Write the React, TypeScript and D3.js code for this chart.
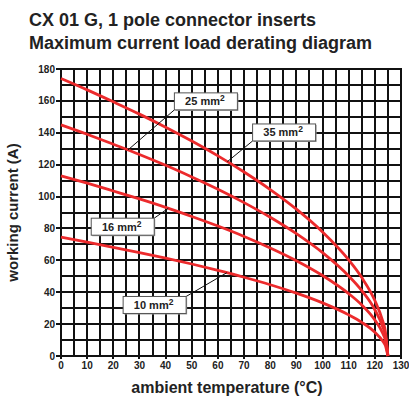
import * as d3 from 'd3';

const temps = [0, 10, 20, 30, 40, 50, 60, 70, 80, 90, 100, 110, 115, 120, 123, 124, 125];
const current10 = [74.5, 71.4, 68.2, 64.9, 61.4, 57.7, 53.7, 49.4, 44.7, 39.4, 33.3, 25.8, 21.1, 14.9, 9.4, 6.7, 0];
const current16 = [113, 108.4, 103.5, 98.5, 93.2, 87.5, 81.5, 75.0, 67.8, 59.8, 50.5, 39.1, 32.0, 22.6, 14.3, 10.1, 0];
const current25 = [145, 139.1, 132.8, 126.4, 119.6, 112.3, 104.6, 96.2, 87.0, 76.7, 64.8, 50.2, 41.0, 29.0, 18.3, 13.0, 0];
const current35 = [174, 166.9, 159.4, 151.7, 143.5, 134.8, 125.5, 115.4, 104.4, 92.1, 77.8, 60.3, 49.2, 34.8, 22.0, 15.6, 0];

const seriesNames = ['10', '16', '25', '35'];
// where the leader line touches the curve (°C)
const anchorTemps = [63.4, 41, 25.6, 63.6];
// label box centres in chart units (°C, A)
const boxTemps = [35.8, 23.6, 55.4, 85.3];
const boxCurrents = [32, 81.1, 159.7, 140.2];

const xTicks = d3.range(0, 131, 10);
const yTicks = d3.range(0, 181, 20);

const W = 409;
const H = 397;
const margin = { top: 69, right: 8, bottom: 41, left: 61 };
const FONT = '"Liberation Sans", Arial, Helvetica, sans-serif';
const RED = '#ec2a2c';
const INK = '#111';

export default function App() {
  const x = d3.scaleLinear().domain([0, 130]).range([margin.left, W - margin.right]);
  const y = d3.scaleLinear().domain([0, 180]).range([H - margin.bottom, margin.top]);

  const all = [current10, current16, current25, current35];
  const line = d3
    .line<number>()
    .x((_, i) => x(temps[i]))
    .y((d) => y(d))
    .curve(d3.curveMonotoneX);

  const valueAt = (vals: number[], t: number) => {
    const i = d3.bisectRight(temps, t) - 1;
    const k = (t - temps[i]) / (temps[i + 1] - temps[i]);
    return vals[i] + k * (vals[i + 1] - vals[i]);
  };

  const [x0, x1] = x.range();
  const [y0, y1] = y.range();
  const rx = (t: number) => Math.round(x(t));
  const ry = (v: number) => Math.round(y(v));

  return (
    <svg
      width={W}
      height={H}
      style={{ position: 'absolute', left: 0, top: 0, background: '#fff' }}
      fontFamily={FONT}
      fontWeight="bold"
    >
      <text x={29} y={26} fontSize={18} fill="#222">
        CX 01 G, 1 pole connector inserts
      </text>
      <text x={29} y={49} fontSize={18} fill="#222">
        Maximum current load derating diagram
      </text>

      {/* grid */}
      <g shapeRendering="crispEdges">
        {d3.range(0, 131, 5).map((t) => (
          <line key={'v' + t} x1={rx(t)} x2={rx(t)} y1={y0} y2={y1} stroke={INK} strokeWidth={2} />
        ))}
        {d3.range(0, 181, 10).map((v) => (
          <line key={'h' + v} x1={x0} x2={x1} y1={ry(v)} y2={ry(v)} stroke={INK} strokeWidth={2} />
        ))}
        <line x1={x0} x2={x0} y1={y0 + 1} y2={y1 - 1} stroke={INK} strokeWidth={2} />
        <line x1={x0 - 1} x2={x1 + 1} y1={ry(0)} y2={ry(0)} stroke={INK} strokeWidth={2} />
        <line x1={x0 - 1} x2={x1 + 1} y1={ry(180)} y2={ry(180)} stroke={INK} strokeWidth={2} />

        {/* ticks */}
        {yTicks.map((v) => (
          <line key={'ytl' + v} x1={x0 - 5} x2={x0} y1={ry(v)} y2={ry(v)} stroke={INK} strokeWidth={2} />
        ))}
        {xTicks.map((t) => (
          <line key={'xtl' + t} x1={rx(t)} x2={rx(t)} y1={y0} y2={y0 + 3} stroke={INK} strokeWidth={2} />
        ))}
      </g>
      {yTicks.map((v) => (
        <text key={'yt' + v} x={x0 - 6} y={y(v)} dy="0.35em" textAnchor="end" fontSize={10} fill="#222">
          {v}
        </text>
      ))}
      {xTicks.map((t) => (
        <text key={'xt' + t} x={x(t)} y={y0 + 12.5} textAnchor="middle" fontSize={10} fill="#222">
          {t}
        </text>
      ))}

      <text
        transform={`translate(18,${(y0 + y1) / 2}) rotate(-90)`}
        textAnchor="middle"
        fontSize={15}
        fill="#222"
      >
        working current (A)
      </text>
      <text x={(x0 + x1) / 2 - 4} y={393} textAnchor="middle" fontSize={16} fill="#222">
        ambient temperature (°C)
      </text>

      {/* curves */}
      {all.map((vals, i) => (
        <path
          key={'c' + i}
          d={line(vals) ?? ''}
          fill="none"
          stroke={RED}
          strokeWidth={2.8}
          strokeLinejoin="round"
        />
      ))}

      {/* labels */}
      {seriesNames.map((name, i) => {
        const bw = 63;
        const bh = 17;
        const cx = x(boxTemps[i]);
        const cy = y(boxCurrents[i]);
        const left = cx - bw / 2;
        const top = cy - bh / 2;
        const ax = x(anchorTemps[i]);
        const ay = y(valueAt(all[i], anchorTemps[i]));
        const rightSide = ax > cx + bw / 2;
        const below = ay > cy;
        const sx = rightSide ? left + bw : left;
        const sy = below ? top + bh : top;
        return (
          <g key={'l' + name}>
            <line x1={sx} y1={sy} x2={ax} y2={ay} stroke={INK} strokeWidth={1} />
            <rect x={left + 1} y={top + 1} width={bw} height={bh} fill="#999" />
            <rect x={left} y={top} width={bw} height={bh} fill="#fff" stroke="#555" strokeWidth={1} />
            <text x={cx - 1} y={cy + 4} textAnchor="middle" fontSize={11} fill="#222">
              {name} mm
              <tspan fontSize={8.5} dy={-4}>
                2
              </tspan>
            </text>
          </g>
        );
      })}
    </svg>
  );
}
